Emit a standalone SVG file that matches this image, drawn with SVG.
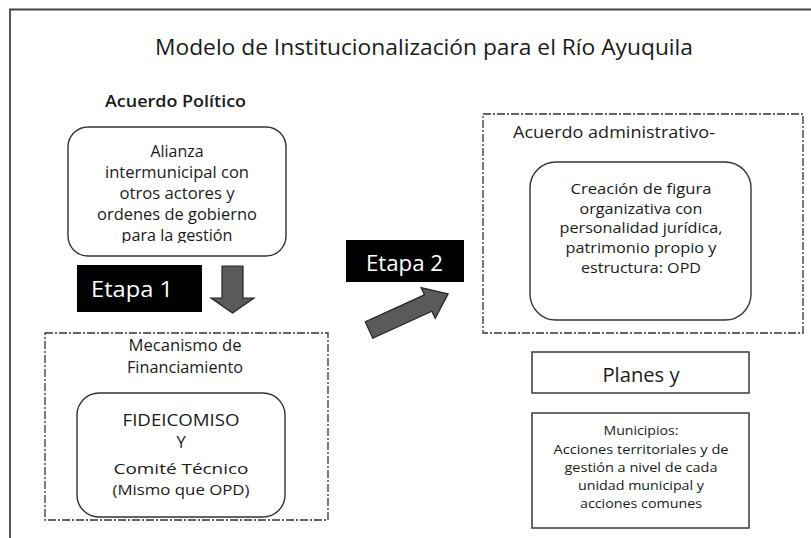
<svg xmlns="http://www.w3.org/2000/svg" width="811" height="538" viewBox="0 0 811 538">
<defs>
<style>
text{font-family:"Open Sans","Noto Sans","Liberation Sans",sans-serif;fill:#1a1a1a}
.t{font-size:16.5px;text-anchor:middle}
.t3{font-size:15px;text-anchor:middle}
.s{font-size:13px;text-anchor:middle}
.et{font-size:22px;fill:#ffffff}
.rb{fill:#ffffff;stroke:#333333;stroke-width:1.4}
.db{fill:#ffffff;stroke:#333333;stroke-width:1.3;stroke-dasharray:8 2 2 2}
.sb{fill:#ffffff;stroke:#3a3a3a;stroke-width:1.5}
.arr{fill:#5a5a5a;stroke:#222222;stroke-width:1.2;stroke-linejoin:miter}
</style>
<clipPath id="clip1"><rect x="68" y="127" width="218" height="116"/></clipPath>
</defs>
<rect x="0" y="0" width="811" height="538" fill="#ffffff"/>
<g id="frame">
<path d="M10 538 V9.5 H811" fill="none" stroke="#444444" stroke-width="1.8"/>
</g>
<g id="title">
<text x="424" y="55" font-size="22" text-anchor="middle" textLength="538" lengthAdjust="spacingAndGlyphs">Modelo de Institucionalización para el Río Ayuquila</text>
</g>
<g id="acuerdo-politico">
<text x="105" y="107" font-size="16" font-weight="600" textLength="141" lengthAdjust="spacingAndGlyphs">Acuerdo Político</text>
<rect class="rb" x="68" y="127" width="218" height="129" rx="20"/>
<g clip-path="url(#clip1)">
<text class="t" x="177" y="157" textLength="53" lengthAdjust="spacingAndGlyphs">Alianza</text>
<text class="t" x="177" y="178" textLength="144" lengthAdjust="spacingAndGlyphs">intermunicipal con</text>
<text class="t" x="177" y="199" textLength="115" lengthAdjust="spacingAndGlyphs">otros actores y</text>
<text class="t" x="177" y="220" textLength="160" lengthAdjust="spacingAndGlyphs">ordenes de gobierno</text>
<text class="t" x="177" y="241" textLength="111" lengthAdjust="spacingAndGlyphs">para la gestión</text>
</g>
</g>
<g id="etapa1">
<rect x="77" y="265" width="125" height="47" fill="#000000"/>
<text class="et" x="91" y="297" textLength="82" lengthAdjust="spacingAndGlyphs">Etapa 1</text>
</g>
<g id="financiamiento">
<rect class="db" x="45" y="333" width="283" height="187"/>
<text class="t" x="185" y="351" textLength="113" lengthAdjust="spacingAndGlyphs">Mecanismo de</text>
<text class="t" x="185" y="373" textLength="116" lengthAdjust="spacingAndGlyphs">Financiamiento</text>
<rect class="rb" x="77" y="393" width="208" height="124" rx="22"/>
<text class="t" x="181" y="426" textLength="117" lengthAdjust="spacingAndGlyphs">FIDEICOMISO</text>
<text class="t" x="181" y="448">Y</text>
<text class="t3" x="181" y="474" textLength="135" lengthAdjust="spacingAndGlyphs">Comité Técnico</text>
<text class="t3" x="181" y="494.5" textLength="137" lengthAdjust="spacingAndGlyphs">(Mismo que OPD)</text>
</g>
<g id="etapa2">
<rect x="346" y="240" width="118" height="42" fill="#000000"/>
<text class="et" x="366" y="271" textLength="77" lengthAdjust="spacingAndGlyphs">Etapa 2</text>
</g>
<g id="acuerdo-administrativo">
<rect class="db" x="483" y="114" width="320" height="219"/>
<text x="513" y="138" font-size="16.5" textLength="202" lengthAdjust="spacingAndGlyphs">Acuerdo administrativo-</text>
<rect class="rb" x="530" y="162" width="221" height="158" rx="26"/>
<text class="t3" x="641" y="194" textLength="141" lengthAdjust="spacingAndGlyphs">Creación de figura</text>
<text class="t3" x="641" y="213.5" textLength="123" lengthAdjust="spacingAndGlyphs">organizativa con</text>
<text class="t3" x="641" y="233" textLength="163" lengthAdjust="spacingAndGlyphs">personalidad jurídica,</text>
<text class="t3" x="641" y="252.5" textLength="151" lengthAdjust="spacingAndGlyphs">patrimonio propio y</text>
<text class="t3" x="641" y="273" textLength="120" lengthAdjust="spacingAndGlyphs">estructura: OPD</text>
</g>
<g id="planes">
<rect class="sb" x="532" y="352" width="217" height="41"/>
<text x="641" y="382" font-size="20" text-anchor="middle" textLength="77" lengthAdjust="spacingAndGlyphs">Planes y</text>
</g>
<g id="municipios">
<rect class="sb" x="532" y="413" width="217" height="115"/>
<text class="s" x="641" y="435" textLength="75" lengthAdjust="spacingAndGlyphs">Municipios:</text>
<text class="s" x="641" y="454" textLength="175" lengthAdjust="spacingAndGlyphs">Acciones territoriales y de</text>
<text class="s" x="641" y="472" textLength="153" lengthAdjust="spacingAndGlyphs">gestión a nivel de cada</text>
<text class="s" x="641" y="490" textLength="126" lengthAdjust="spacingAndGlyphs">unidad municipal y</text>
<text class="s" x="641" y="508" textLength="122" lengthAdjust="spacingAndGlyphs">acciones comunes</text>
</g>
<g id="connectors">
<polygon class="arr" points="222,266 243,266 243,298 254,298 232.5,313 211,298 222,298"/>
<polygon class="arr" transform="translate(369 330) rotate(-24.5)" points="0,-9 65,-9 65,-17 87,0 65,17 65,9 0,9"/>
</g>
</svg>
